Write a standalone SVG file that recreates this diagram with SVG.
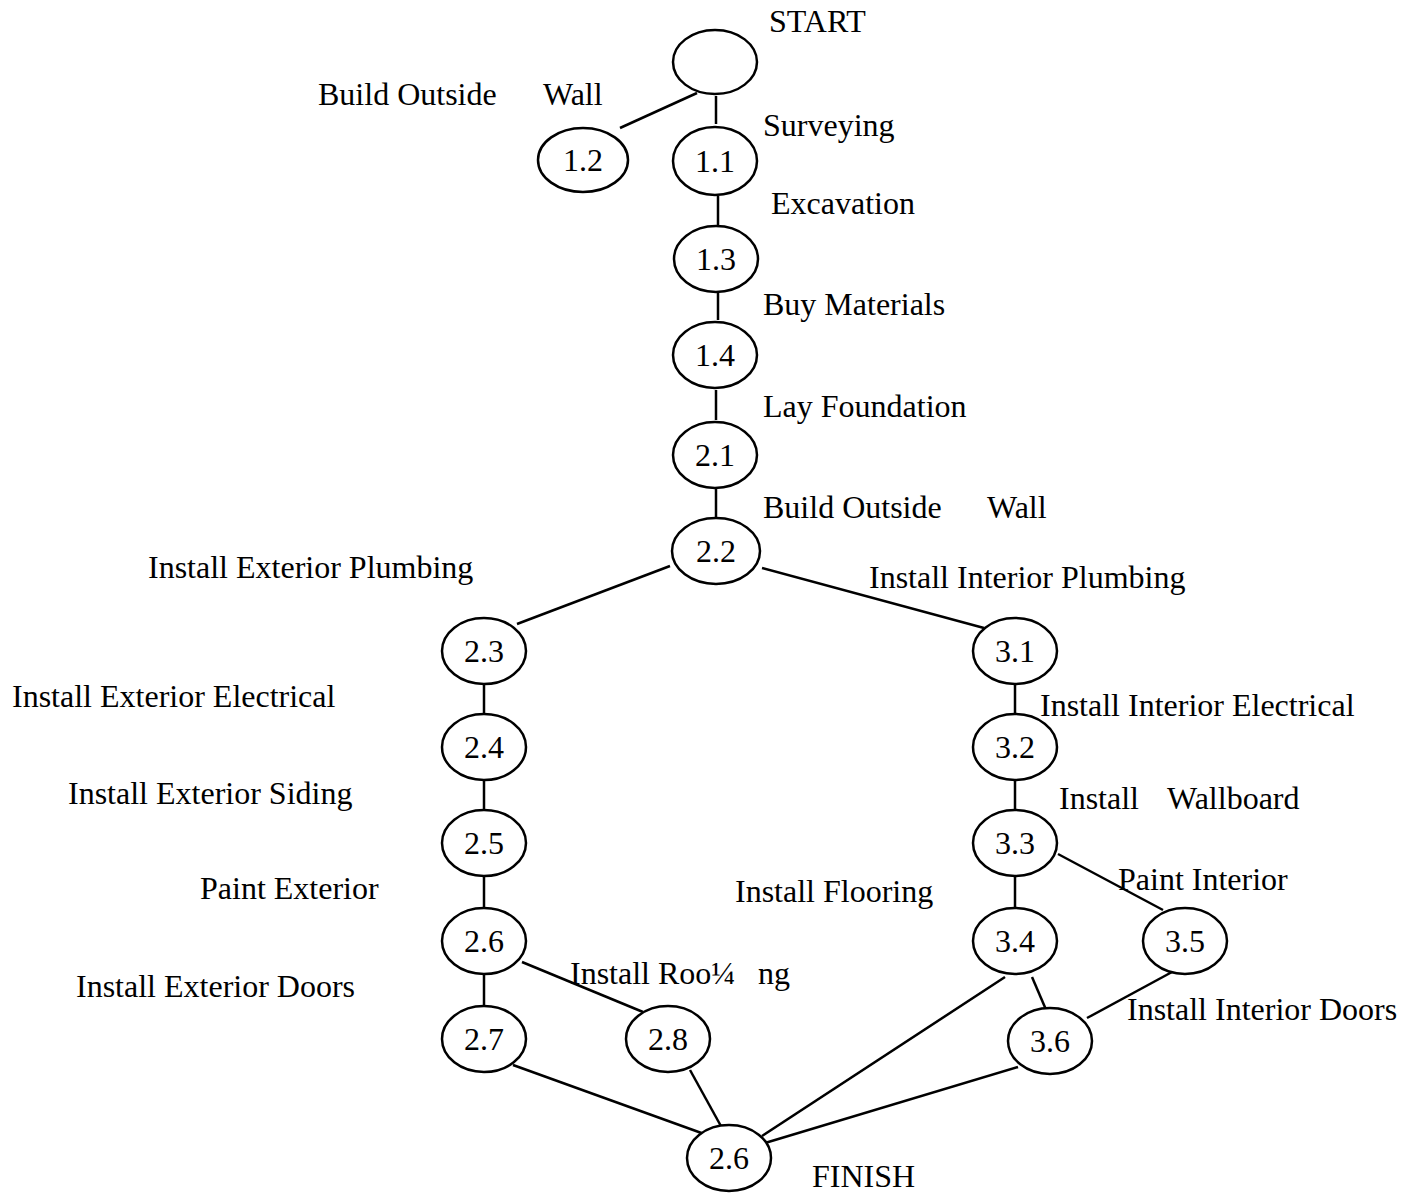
<svg xmlns="http://www.w3.org/2000/svg" width="1405" height="1195" viewBox="0 0 1405 1195">
<style>
  .bg { fill: #ffffff; }
  .node ellipse { fill: #ffffff; stroke: #000000; stroke-width: 2.5; }
  .node text { font-family: "Liberation Serif", "Times New Roman", serif; font-size: 32px; fill: #000000; text-anchor: middle; }
  .edges line { stroke: #000000; stroke-width: 2.5; }
  .lbl { font-family: "Liberation Serif", "Times New Roman", serif; font-size: 32px; fill: #000000; }
</style>
<rect class="bg" x="0" y="0" width="1405" height="1195"/>

<!-- connectors -->
<g id="edges" class="edges">
  <line x1="697" y1="93" x2="620" y2="128"/>
  <line x1="716" y1="96" x2="716" y2="124"/>
  <line x1="718" y1="196" x2="718" y2="225"/>
  <line x1="718" y1="292" x2="718" y2="320"/>
  <line x1="716" y1="390" x2="716" y2="420"/>
  <line x1="716" y1="488" x2="716" y2="518"/>
  <line x1="670" y1="566" x2="517" y2="624"/>
  <line x1="762" y1="568" x2="984" y2="628"/>
  <line x1="484" y1="684" x2="484" y2="714"/>
  <line x1="1015" y1="684" x2="1015" y2="714"/>
  <line x1="484" y1="780" x2="484" y2="810"/>
  <line x1="1015" y1="780" x2="1015" y2="810"/>
  <line x1="484" y1="876" x2="484" y2="908"/>
  <line x1="1015" y1="876" x2="1015" y2="908"/>
  <line x1="1058" y1="854" x2="1163" y2="910"/>
  <line x1="484" y1="975" x2="484" y2="1007"/>
  <line x1="522" y1="962" x2="643" y2="1012"/>
  <line x1="1032" y1="977" x2="1047" y2="1012"/>
  <line x1="1172" y1="972" x2="1087" y2="1018"/>
  <line x1="513" y1="1065" x2="707" y2="1135"/>
  <line x1="690" y1="1070" x2="722" y2="1128"/>
  <line x1="1005" y1="977" x2="762" y2="1136"/>
  <line x1="1018" y1="1067" x2="765" y2="1143"/>
</g>

<!-- nodes -->
<g id="start" class="node"><ellipse cx="715" cy="62" rx="42" ry="32"/></g>
<g id="n1-2" class="node"><ellipse cx="583" cy="160" rx="45" ry="32"/><text x="583" y="171">1.2</text></g>
<g id="n1-1" class="node"><ellipse cx="715" cy="161" rx="42" ry="34"/><text x="715" y="172">1.1</text></g>
<g id="n1-3" class="node"><ellipse cx="716" cy="259" rx="42" ry="33"/><text x="716" y="270">1.3</text></g>
<g id="n1-4" class="node"><ellipse cx="715" cy="355" rx="42" ry="33"/><text x="715" y="366">1.4</text></g>
<g id="n2-1" class="node"><ellipse cx="715" cy="455" rx="42" ry="33"/><text x="715" y="466">2.1</text></g>
<g id="n2-2" class="node"><ellipse cx="716" cy="551" rx="44" ry="33"/><text x="716" y="562">2.2</text></g>
<g id="n2-3" class="node"><ellipse cx="484" cy="651" rx="42" ry="33"/><text x="484" y="662">2.3</text></g>
<g id="n3-1" class="node"><ellipse cx="1015" cy="651" rx="42" ry="33"/><text x="1015" y="662">3.1</text></g>
<g id="n2-4" class="node"><ellipse cx="484" cy="747" rx="42" ry="33"/><text x="484" y="758">2.4</text></g>
<g id="n3-2" class="node"><ellipse cx="1015" cy="747" rx="42" ry="33"/><text x="1015" y="758">3.2</text></g>
<g id="n2-5" class="node"><ellipse cx="484" cy="843" rx="42" ry="33"/><text x="484" y="854">2.5</text></g>
<g id="n3-3" class="node"><ellipse cx="1015" cy="843" rx="42" ry="33"/><text x="1015" y="854">3.3</text></g>
<g id="n2-6" class="node"><ellipse cx="484" cy="941" rx="42" ry="33"/><text x="484" y="952">2.6</text></g>
<g id="n3-4" class="node"><ellipse cx="1015" cy="941" rx="42" ry="33"/><text x="1015" y="952">3.4</text></g>
<g id="n3-5" class="node"><ellipse cx="1185" cy="941" rx="42" ry="33"/><text x="1185" y="952">3.5</text></g>
<g id="n2-7" class="node"><ellipse cx="484" cy="1039" rx="42" ry="33"/><text x="484" y="1050">2.7</text></g>
<g id="n2-8" class="node"><ellipse cx="668" cy="1039" rx="42" ry="33"/><text x="668" y="1050">2.8</text></g>
<g id="n3-6" class="node"><ellipse cx="1050" cy="1041" rx="42" ry="33"/><text x="1050" y="1052">3.6</text></g>
<g id="finish" class="node"><ellipse cx="729" cy="1158" rx="42" ry="33"/><text x="729" y="1169">2.6</text></g>

<!-- activity labels -->
<g id="labels">
  <text class="lbl" x="769" y="32">START</text>
  <text class="lbl" y="105"><tspan x="318">Build Outside</tspan><tspan x="543">Wall</tspan></text>
  <text class="lbl" x="763" y="136">Surveying</text>
  <text class="lbl" x="771" y="214">Excavation</text>
  <text class="lbl" x="763" y="315">Buy Materials</text>
  <text class="lbl" x="763" y="417">Lay Foundation</text>
  <text class="lbl" y="518"><tspan x="763">Build Outside</tspan><tspan x="987">Wall</tspan></text>
  <text class="lbl" x="148" y="578">Install Exterior Plumbing</text>
  <text class="lbl" x="869" y="588">Install Interior Plumbing</text>
  <text class="lbl" x="12" y="707">Install Exterior Electrical</text>
  <text class="lbl" x="1040" y="716">Install Interior Electrical</text>
  <text class="lbl" x="68" y="804">Install Exterior Siding</text>
  <text class="lbl" y="809"><tspan x="1059">Install</tspan><tspan x="1167">Wallboard</tspan></text>
  <text class="lbl" x="200" y="899">Paint Exterior</text>
  <text class="lbl" x="735" y="902">Install Flooring</text>
  <text class="lbl" x="1118" y="890">Paint Interior</text>
  <text class="lbl" x="76" y="997">Install Exterior Doors</text>
  <text class="lbl" y="984"><tspan x="570">Install Roo¼</tspan><tspan x="758">ng</tspan></text>
  <text class="lbl" x="1127" y="1020">Install Interior Doors</text>
  <text class="lbl" x="812" y="1187">FINISH</text>
</g>
</svg>
